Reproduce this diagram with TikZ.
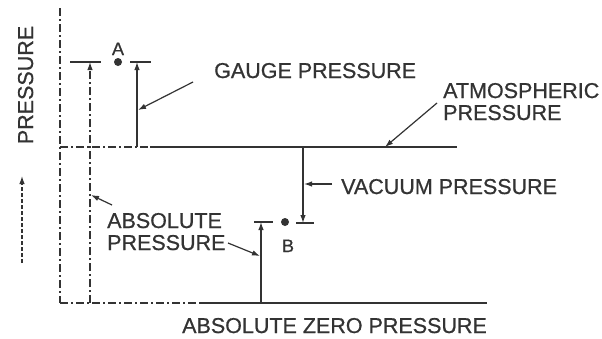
\documentclass[tikz,border=0pt]{standalone}
\usepackage{fontspec}
\setmainfont{Liberation Sans}
\newfontfamily\lblfont{Liberation Sans}[FakeBold=0.7]
\usetikzlibrary{arrows.meta}
\begin{document}
\begin{tikzpicture}[x=1pt,y=-1pt,
  ink/.style={draw=black!80, line width=1.2pt},
  lbl/.style={font=\lblfont\fontsize{21.5}{25}\selectfont, text=black!80, inner sep=0pt},
  pt/.style={font=\lblfont\fontsize{18}{21}\selectfont, text=black!80, inner sep=0pt},
  arr/.style={ink, -{Latex[length=8pt,width=5.5pt]}},
  dsh/.style={dash pattern=on 8pt off 3pt on 2pt off 3pt}]
\useasboundingbox[fill=white] (0,0) rectangle (602,338);
% axes
\coordinate (axTop) at (60,8);
\coordinate (axBot) at (60,303);
\coordinate (zeroM) at (200,303);
\coordinate (zeroR) at (487,303);
\coordinate (atmL) at (60,147);
\coordinate (atmM) at (150,147);
\coordinate (atmR) at (457,147);
\draw[ink,dsh] (axTop) -- (axBot);
\draw[ink,dsh] (axBot) -- (zeroM);
\draw[ink] (zeroM) -- (zeroR);
\draw[ink,dsh] (atmL) -- (atmM);
\draw[ink] (atmM) -- (atmR);
% point A
\fill[black!80] (118,62) circle (4pt) coordinate (A);
\node[pt, anchor=base] (Alab) at (118,55) {A};
\coordinate (tA1l) at (70,62); \coordinate (tA1r) at (101,62);
\coordinate (tA2l) at (130,62); \coordinate (tA2r) at (151,62);
\draw[ink] (tA1l) -- (tA1r);
\draw[ink] (tA2l) -- (tA2r);
\coordinate (absA0) at (90,303); \coordinate (absA) at (90,62);
\draw[arr,dsh] (absA0) -- (absA);
\coordinate (gA0) at (137,147); \coordinate (gA) at (137,62);
\draw[arr] (gA0) -- (gA);
% point B
\fill[black!80] (285,222) circle (4pt) coordinate (B);
\node[pt, anchor=base] (Blab) at (288,252) {B};
\coordinate (tBl) at (254,222); \coordinate (tBr) at (273,222);
\draw[ink] (tBl) -- (tBr);
\coordinate (absB0) at (261,303); \coordinate (absB) at (261,222);
\draw[arr] (absB0) -- (absB);
\coordinate (vB0) at (303,147); \coordinate (vB) at (303,223);
\draw[arr] (vB0) -- (vB);
\coordinate (tVl) at (296,223); \coordinate (tVr) at (314,223);
\draw[ink] (tVl) -- (tVr);
% labels
\node[lbl, anchor=base west] (gauge) at (214,78) {GAUGE PRESSURE};
\node[lbl, anchor=base west] (atm1) at (443,98) {ATMOSPHERIC};
\node[lbl, anchor=base west] (atm2) at (443,120) {PRESSURE};
\node[lbl, anchor=base west] (vac) at (341,194) {VACUUM PRESSURE};
\node[lbl, anchor=base west] (abs1) at (107,228) {ABSOLUTE};
\node[lbl, anchor=base west] (abs2) at (107,250) {PRESSURE};
\node[lbl, anchor=base west] (zero) at (182,333) {ABSOLUTE ZERO PRESSURE};
\node[lbl, anchor=base, rotate=90] (ylab) at (33,85) {PRESSURE};
% leader arrows
\coordinate (gT) at (193,82); \coordinate (gH) at (138,110);
\draw[arr] (gT) -- (gH);
\coordinate (aT) at (437,103); \coordinate (aH) at (385,147);
\draw[arr] (aT) -- (aH);
\coordinate (vT) at (332,184); \coordinate (vH) at (304,184);
\draw[arr] (vT) -- (vH);
\coordinate (p1T) at (112,205); \coordinate (p1H) at (91,195);
\draw[arr] (p1T) -- (p1H);
\coordinate (p2T) at (228,243); \coordinate (p2H) at (260,256);
\draw[arr] (p2T) -- (p2H);
% upward arrow beside axis
\coordinate (upT) at (22,263); \coordinate (upH) at (22,176);
\draw[arr,dash pattern=on 4pt off 2pt] (upT) -- (upH);
\end{tikzpicture}
\end{document}
